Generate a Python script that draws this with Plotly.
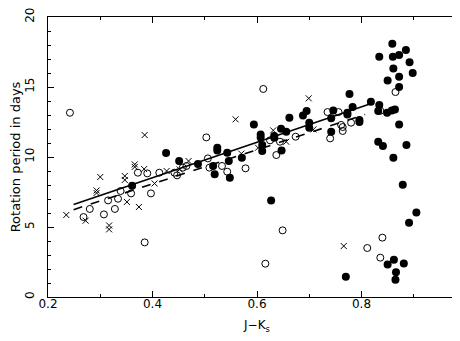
import plotly.graph_objects as go

# filled circles
filled_x = [0.426, 0.361, 0.451, 0.487, 0.516, 0.519, 0.548, 0.546, 0.543, 0.524, 0.524,
            0.571, 0.594, 0.607, 0.607, 0.610, 0.610, 0.627, 0.633, 0.633, 0.646, 0.656,
            0.647, 0.662, 0.688, 0.695, 0.700, 0.700, 0.742, 0.746, 0.742, 0.773, 0.773,
            0.777, 0.783, 0.796, 0.796, 0.818, 0.834, 0.832, 0.849, 0.858, 0.864, 0.872,
            0.832, 0.841, 0.886, 0.861, 0.859, 0.834, 0.860, 0.872, 0.885, 0.892, 0.861,
            0.898, 0.872, 0.850, 0.872, 0.879, 0.905, 0.891, 0.850, 0.862, 0.881, 0.866,
            0.865, 0.770]
filled_y = [10.29, 7.95, 9.71, 9.50, 9.36, 8.76, 8.52, 9.71, 10.31, 10.66, 10.47,
            9.95, 12.33, 11.60, 11.40, 10.86, 10.43, 6.90, 11.50, 11.38, 12.02, 11.81,
            10.47, 12.81, 12.97, 13.29, 12.45, 12.09, 12.76, 13.33, 11.81, 13.16, 13.04,
            14.50, 13.57, 12.64, 12.50, 13.95, 13.71, 13.29, 13.16, 13.33, 13.40, 12.33,
            11.09, 10.79, 10.86, 9.95, 18.09, 17.16, 17.16, 17.28, 17.64, 16.77, 16.33,
            16.00, 15.74, 15.47, 15.00, 8.02, 6.04, 5.31, 2.33, 2.66, 2.40, 1.76,
            1.24, 1.45]

# open circles
open_x = [0.242, 0.268, 0.280, 0.307, 0.315, 0.328, 0.334, 0.339, 0.359, 0.372, 0.390,
          0.385, 0.397, 0.413, 0.442, 0.447, 0.458, 0.465, 0.503, 0.506, 0.509, 0.533,
          0.543, 0.578, 0.612, 0.616, 0.625, 0.644, 0.637, 0.649, 0.674, 0.735, 0.756,
          0.761, 0.764, 0.764, 0.780, 0.740, 0.865, 0.836, 0.840, 0.811, 0.836]
open_y = [13.16, 5.71, 6.29, 5.90, 6.90, 6.29, 7.02, 7.57, 7.40, 8.88, 8.83,
          3.90, 7.40, 8.88, 8.88, 8.69, 9.24, 9.36, 11.40, 9.90, 9.24, 9.36,
          8.95, 9.19, 14.86, 2.38, 11.19, 11.09, 10.14, 4.76, 11.45, 13.21, 13.21,
          12.29, 12.14, 11.86, 12.45, 11.33, 14.64, 13.30, 4.24, 3.50, 2.81]

# crosses
cross_x = [0.235, 0.272, 0.300, 0.293, 0.293, 0.317, 0.317, 0.347, 0.347, 0.351, 0.366,
           0.366, 0.384, 0.374, 0.404, 0.427, 0.385, 0.452, 0.469, 0.559, 0.699, 0.631,
           0.708, 0.656, 0.602, 0.570, 0.766]
cross_y = [5.86, 5.45, 8.57, 7.61, 7.43, 5.11, 4.83, 8.64, 8.36, 6.79, 9.47,
           9.29, 9.14, 6.43, 8.11, 9.00, 11.57, 9.11, 9.71, 12.69, 14.19, 11.90,
           11.97, 11.09, 10.66, 10.24, 3.64]

# fitted relations (end points)
fit_x = [0.249, 0.823]
fit_y = [6.61, 13.88]
fit2_x = [0.249, 0.807]
fit2_y = [6.24, 13.04]

FONT = 'DejaVu Sans, Liberation Sans, Arial'

fig = go.Figure()

fig.add_trace(go.Scatter(x=fit_x, y=fit_y, mode='lines',
                         line=dict(color='black', width=1.6)))
fig.add_trace(go.Scatter(x=fit2_x, y=fit2_y, mode='lines',
                         line=dict(color='black', width=1.6, dash='dash')))

fig.add_trace(go.Scatter(x=open_x, y=open_y, mode='markers',
                         marker=dict(symbol='circle-open', size=7, color='black',
                                     line=dict(width=1))))
fig.add_trace(go.Scatter(x=cross_x, y=cross_y, mode='markers',
                         marker=dict(symbol='x-thin-open', size=6, color='black',
                                     line=dict(width=1))))
fig.add_trace(go.Scatter(x=filled_x, y=filled_y, mode='markers',
                         marker=dict(symbol='circle', size=8, color='black')))

axis_common = dict(showgrid=False, zeroline=False, showline=True, linecolor='black',
                   linewidth=1.2, mirror='allticks', ticks='inside', ticklen=6,
                   tickcolor='black', tickwidth=1, ticklabeloverflow='allow',
                   automargin=False,
                   tickfont=dict(family=FONT, size=12, color='black'))

fig.update_layout(
    width=460, height=341,
    margin=dict(l=40, r=2, t=9, b=52),
    plot_bgcolor='white', paper_bgcolor='white',
    showlegend=False,
    xaxis=dict(range=[0.2, 1.0], dtick=0.2, tickformat='.1f',
               ticklabelstandoff=-5,
               minor=dict(dtick=0.1, ticks='inside', ticklen=3, tickcolor='black'),
               title=dict(text='J\u2212K<sub>s</sub>', standoff=11,
                          font=dict(family=FONT, size=12, color='black')),
               **axis_common),
    yaxis=dict(range=[0, 20], dtick=5, tickangle=-90,
               ticklabelstandoff=8,
               minor=dict(dtick=1, ticks='inside', ticklen=3, tickcolor='black'),
               title=dict(text='Rotation period in days', standoff=2,
                          font=dict(family=FONT, size=13, color='black')),
               **axis_common),
)

fig.write_html("out.html")
